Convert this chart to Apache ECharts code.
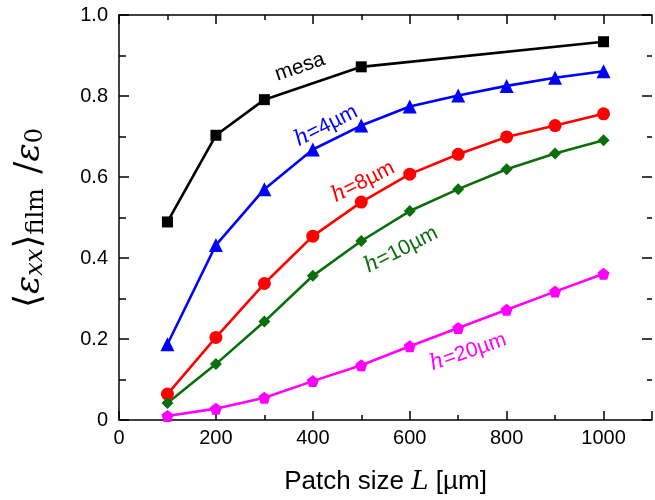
<!DOCTYPE html>
<html><head><meta charset="utf-8">
<script src="https://cdn.jsdelivr.net/npm/echarts@6/dist/echarts.min.js"></script>
<style>html,body{margin:0;padding:0;background:#fff}#c{width:655px;height:500px}</style>
</head><body><div id="c"></div>
<script>
const xMesa = [100, 200, 300, 500, 1000];
const yMesa = [0.489, 0.703, 0.791, 0.872, 0.934];
const xH = [100, 200, 300, 400, 500, 600, 700, 800, 900, 1000];
const yH4 = [0.187, 0.432, 0.570, 0.668, 0.727, 0.774, 0.801, 0.825, 0.845, 0.861];
const yH8 = [0.064, 0.204, 0.337, 0.454, 0.538, 0.607, 0.656, 0.699, 0.727, 0.756];
const yH10 = [0.042, 0.138, 0.243, 0.356, 0.442, 0.516, 0.570, 0.619, 0.658, 0.691];
const yH20 = [0.010, 0.028, 0.055, 0.096, 0.135, 0.182, 0.227, 0.272, 0.317, 0.361];
const xTicks = [0, 200, 400, 600, 800, 1000];
const yTicks = ['0', '0.2', '0.4', '0.6', '0.8', '1.0'];

const pent = 'path://M0,-10 L9.51,-3.09 L5.88,8.09 L-5.88,8.09 L-9.51,-3.09 Z';
function pts(xs, ys){ return xs.map((x,i)=>[x, ys[i]]); }
function ser(name, xs, ys, color, symbol, size){
  return {name, type:'line', data: pts(xs, ys), xAxisIndex:0, yAxisIndex:0,
    lineStyle:{color, width:2.6}, itemStyle:{color},
    symbol, symbolSize:size, showSymbol:true, animation:false, z:3};
}
const chart = echarts.init(document.getElementById('c'), null, {renderer:'canvas'});
const tickStyle = {color:'#000', width:1.5};
const lab = {fontFamily:'Liberation Sans, Arial, sans-serif', fontSize:20, color:'#000'};
const line = {show:true, onZero:false, lineStyle:{color:'#000', width:1.5}};
const sans = 'Liberation Sans, Arial, sans-serif';
const serif = 'DejaVu Serif, serif';
function ann(x, y, rot, txt, color){
  return {type:'text', x, y, rotation:rot, z:10,
    style:{text:'{i|h}{n|' + txt + '}', align:'center', verticalAlign:'middle',
      rich:{i:{fontFamily:serif, fontStyle:'italic', fontSize:22, fill:color},
            n:{fontFamily:sans, fontSize:21, fill:color}}}};
}
chart.setOption({
  animation:false,
  grid:{left:119, top:15, width:536, height:407, containLabel:false},
  xAxis:[{
    type:'value', min:0, max:1100, interval:200, position:'bottom',
    axisLine:line,
    axisTick:{show:true, inside:true, length:9, lineStyle:tickStyle},
    minorTick:{show:true, splitNumber:2, length:5, lineStyle:tickStyle},
    splitLine:{show:false},
    axisLabel:Object.assign({margin:8, formatter:function(v){return xTicks.indexOf(v)>=0?String(v):'';}}, lab),
    name:'{n|Patch size }{i|L}{n| [µm]}', nameLocation:'middle', nameGap:49,
    nameTextStyle:{rich:{
      n:{fontFamily:sans, fontSize:26, color:'#000'},
      i:{fontFamily:serif, fontStyle:'italic', fontSize:26, color:'#000'}}}
  },{
    type:'value', min:0, max:1100, interval:200, position:'top',
    axisLine:line,
    axisTick:{show:true, inside:true, length:9, lineStyle:tickStyle},
    minorTick:{show:true, splitNumber:2, length:5, lineStyle:tickStyle},
    splitLine:{show:false}, axisLabel:{show:false}
  }],
  yAxis:[{
    type:'value', min:0, max:1, interval:0.2, position:'left',
    axisLine:line,
    axisTick:{show:true, inside:true, length:10, lineStyle:tickStyle},
    minorTick:{show:true, splitNumber:2, length:7, lineStyle:tickStyle},
    splitLine:{show:false},
    axisLabel:Object.assign({margin:11, formatter:function(v){
      const i = Math.round(v/0.2); return yTicks[i] !== undefined ? yTicks[i] : '';}}, lab)
  },{
    type:'value', min:0, max:1, interval:0.2, position:'right',
    axisLine:{show:false, onZero:false},
    axisTick:{show:true, inside:true, length:10, lineStyle:tickStyle},
    minorTick:{show:true, splitNumber:2, length:5, lineStyle:tickStyle},
    splitLine:{show:false}, axisLabel:{show:false}
  }],
  series:[
    ser('mesa', xMesa, yMesa, '#000000', 'rect', 11),
    ser('h4', xH, yH4, '#0000ff', 'triangle', 14),
    ser('h8', xH, yH8, '#ff0000', 'circle', 13),
    ser('h10', xH, yH10, '#0a6e0a', 'diamond', 12),
    ser('h20', xH, yH20, '#ff00ff', pent, 12)
  ],
  graphic:[
    {type:'text', x:30, y:218, rotation:Math.PI/2, z:10,
     style:{text:'{a|⟨}{e|ε}{s|xx}{a|⟩}{f|film}{a| /}{e|ε}{z|0}', align:'center', verticalAlign:'middle',
       rich:{
         a:{fontFamily:serif, fontSize:36, fill:'#000'},
         e:{fontFamily:serif, fontStyle:'italic', fontSize:34, fill:'#000'},
         s:{fontFamily:serif, fontStyle:'italic', fontSize:24, fill:'#000', padding:[12,0,0,0]},
         f:{fontFamily:serif, fontSize:24, fill:'#000', padding:[14,3,0,0]},
         z:{fontFamily:serif, fontSize:24, fill:'#000', padding:[12,0,0,0]}
       }}},
    {type:'text', x:300, y:67, rotation:0.33, z:10,
     style:{text:'mesa', align:'center', verticalAlign:'middle', fontFamily:sans, fontSize:21, fill:'#000'}},
    ann(326, 126, 0.47, '=4µm', '#0000ff'),
    ann(363, 182, 0.47, '=8µm', '#ff0000'),
    ann(401, 250, 0.47, '=10µm', '#0a6e0a'),
    ann(468, 352, 0.33, '=20µm', '#ff00ff')
  ]
});
</script></body></html>
